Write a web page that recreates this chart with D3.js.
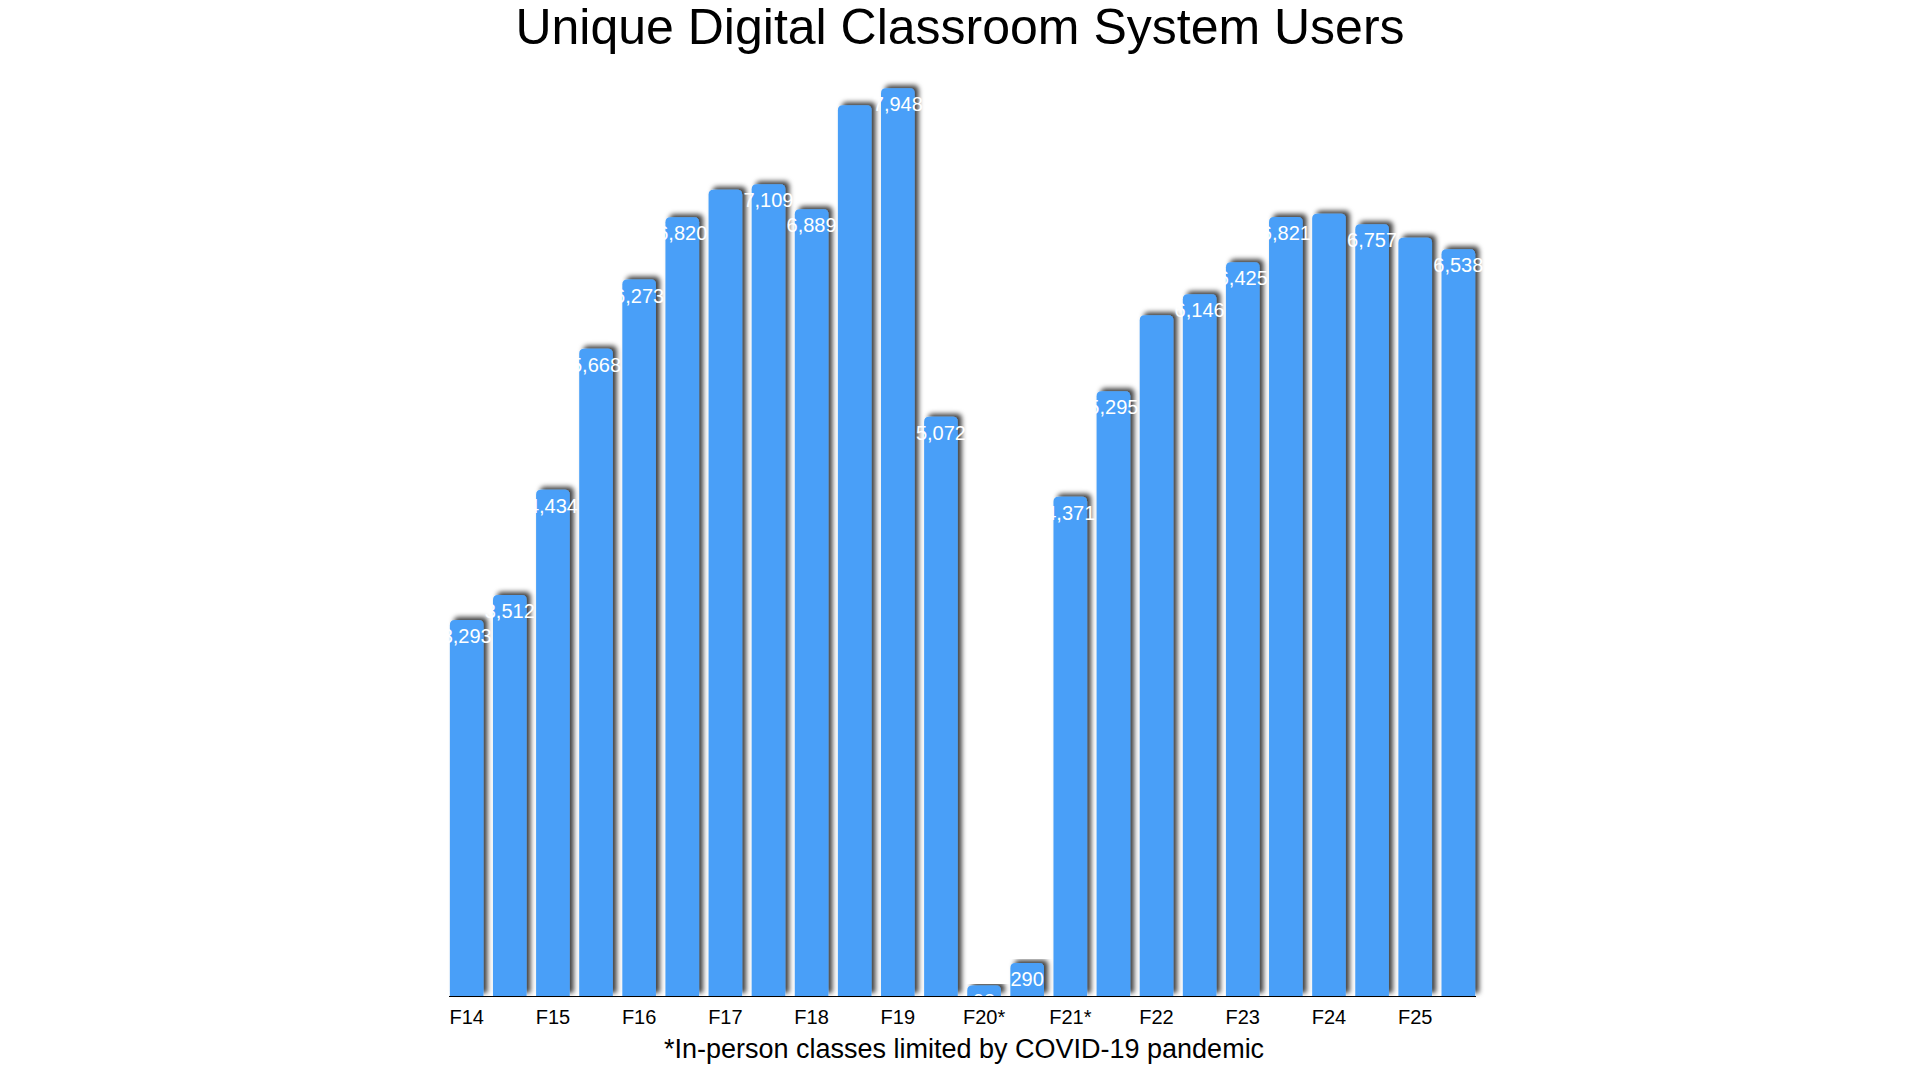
<!DOCTYPE html>
<html><head><meta charset="utf-8">
<script src="https://cdn.jsdelivr.net/npm/d3@7"></script>
<style>body{margin:0;background:#fff;font-family:"Liberation Sans",Arial,Helvetica,sans-serif;}</style>
</head><body>
<svg id="c" width="1920" height="1080"></svg>
<script>
const categories = ["F14a","F14b","F15a","F15b","F16a","F16b","F17a","F17b","F18a","F18b","F19a","F19b","F20a","F20b","F21a","F21b","F22a","F22b","F23a","F23b","F24a","F24b","F25a","F25b"];
const values = [3293,3512,4434,5668,6273,6820,7060,7109,6889,7800,7948,5072,93,290,4371,5295,5960,6146,6425,6821,6850,6757,6640,6538];
const showLabel = [1,1,1,1,1,1,0,1,1,0,1,1,1,1,1,1,0,1,1,1,0,1,0,1];
const tickCats = ["F14a","F15a","F16a","F17a","F18a","F19a","F20a","F21a","F22a","F23a","F24a","F25a"];
const tickLabels = ["F14","F15","F16","F17","F18","F19","F20*","F21*","F22","F23","F24","F25"];

const rows = categories.map((c,i)=>({c, v:values[i], show:showLabel[i]}));

const svg = d3.select("#c");
const defs = svg.append("defs");
const f = defs.append("filter").attr("id","sh").attr("x","-30%").attr("y","-10%").attr("width","160%").attr("height","120%");
f.append("feDropShadow").attr("dx",4).attr("dy",-3).attr("stdDeviation",2.5).attr("flood-color","#000").attr("flood-opacity",0.75);

const x = d3.scaleBand().domain(categories).range([449,1476]).paddingInner(0.22).paddingOuter(0.02);
const y = d3.scaleLinear().domain([0,8000]).range([996,82.4]);
const r = 5;
svg.append("g").selectAll("path").data(rows).join("path")
  .attr("filter","url(#sh)").attr("fill","#489ff8")
  .attr("d",d=>{
    const x0=x(d.c), w=x.bandwidth(), y0=y(d.v), b=y(0);
    const rr=Math.min(r,(b-y0));
    return `M${x0},${b}V${y0+rr}Q${x0},${y0} ${x0+rr},${y0}H${x0+w-rr}Q${x0+w},${y0} ${x0+w},${y0+rr}V${b}Z`;
  });
svg.append("g").selectAll("text").data(rows.filter(d=>d.show)).join("text")
  .attr("x",d=>x(d.c)+x.bandwidth()/2)
  .attr("y",d=>y(d.v)+23)
  .attr("text-anchor","middle").attr("fill","#fff").attr("font-size",20)
  .text(d=>d3.format(",")(d.v));

const ax = svg.append("g").attr("transform","translate(0,996)")
  .call(d3.axisBottom(x).tickValues(tickCats).tickSize(0).tickPadding(14).tickFormat((d,i)=>tickLabels[i]));
ax.select(".domain").attr("stroke","#000").attr("d","M449,0.5H1476");
ax.selectAll("text").attr("font-size",20).attr("fill","#000").attr("font-family","Liberation Sans, Arial, sans-serif");

svg.append("text").attr("x",960).attr("y",44).attr("text-anchor","middle").attr("font-size",50).text("Unique Digital Classroom System Users");
svg.append("text").attr("x",964).attr("y",1058).attr("text-anchor","middle").attr("font-size",27).text("*In-person classes limited by COVID-19 pandemic");
</script>
</body></html>
